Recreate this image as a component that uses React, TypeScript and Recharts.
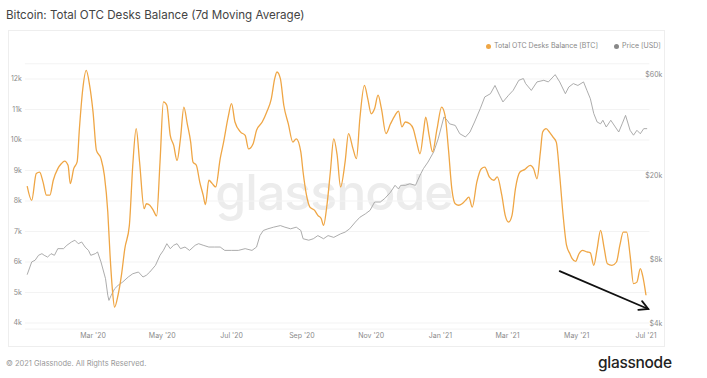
import { LineChart, Line, XAxis, YAxis, CartesianGrid, ReferenceLine } from "recharts";

// days counted from 2020-01-01
const otcDays = [
  2, 6, 10, 13, 16, 19, 22, 25, 29, 32, 35, 38, 40, 43, 46, 48, 51, 54, 57, 60,
  63, 67, 70, 73, 75, 77, 79, 82, 85, 88, 92, 95, 98, 101, 105, 107, 110, 113, 116, 119,
  122, 125, 128, 131, 134, 137, 140, 143, 146, 148, 151, 154, 157, 159, 162, 165, 168, 172, 175, 179,
  182, 185, 190, 194, 197, 201, 204, 209, 213, 217, 220, 222, 225, 228, 232, 236, 239, 243, 245, 248,
  251, 255, 258, 261, 263, 266, 269, 272, 275, 278, 282, 285, 289, 292, 295, 299, 302, 305, 308, 311,
  314, 318, 322, 326, 329, 332, 335, 339, 342, 345, 348, 351, 353, 356, 359, 363, 367, 370, 373, 376,
  379, 382, 385, 388, 391, 394, 398, 402, 405, 409, 413, 416, 420, 423, 426, 429, 432, 436, 440, 445,
  448, 451, 454, 456, 459, 462, 465, 468, 471, 474, 477, 480, 482, 485, 488, 491, 495, 498, 501, 504,
  507, 510, 513, 517, 521, 524, 527, 530, 533, 536, 539, 542, 544, 547,
];
const otcBalance = [
  8490, 8020, 8900, 8950, 8620, 8190, 8190, 8680, 9060, 9220, 9310, 9170, 8570, 9060, 9280, 10370, 11680, 12280, 11790, 10920,
  9660, 9390, 8840, 7640, 6220, 5120, 4520, 4910, 5560, 6440, 7200, 9170, 10370, 9280, 7750, 7910, 7860, 7700, 7510, 9280,
  11250, 11140, 10150, 9830, 9330, 10040, 11080, 10530, 9930, 9280, 9170, 8620, 8190, 7880, 8680, 8570, 8460, 9390, 9930, 10750,
  11190, 10590, 10260, 10150, 9710, 9880, 10320, 10590, 10920, 11350, 12010, 12230, 12010, 11140, 10530, 9930, 10040, 9610, 8950, 8190,
  7800, 7700, 7530, 7420, 7200, 7860, 8950, 10040, 9500, 8460, 9280, 10210, 9710, 9390, 10700, 11790, 11350, 10860, 11030, 11470,
  11030, 10210, 10530, 10810, 10950, 10430, 10590, 10530, 10370, 9930, 9550, 10260, 10750, 10150, 9610, 10370, 11080, 10810, 9710, 8400,
  7910, 7860, 7910, 8020, 8130, 7800, 8620, 9060, 9110, 8790, 8680, 8790, 8190, 7530, 7310, 7530, 8400, 8950, 9030, 9170,
  9060, 8730, 9610, 10260, 10370, 10260, 10100, 9930, 8840, 7530, 6550, 6270, 6110, 6020, 6270, 6380, 6330, 6300, 5890, 6440,
  7040, 6490, 5940, 5890, 6000, 6550, 6980, 6980, 6220, 5290, 5340, 5780, 5560, 4910,
];

const priceDays = [
  2, 6, 9, 12, 15, 17, 20, 23, 26, 29, 34, 37, 41, 44, 47, 50, 53, 56, 58, 62,
  64, 67, 71, 73, 74, 76, 79, 82, 86, 91, 95, 100, 104, 107, 110, 115, 119, 122, 125, 128,
  131, 134, 137, 141, 145, 150, 153, 157, 162, 167, 172, 176, 182, 188, 194, 200, 204, 207, 210, 214,
  219, 225, 229, 234, 239, 243, 245, 250, 254, 258, 263, 267, 272, 278, 282, 286, 291, 295, 300, 304,
  308, 313, 317, 322, 326, 329, 331, 335, 339, 344, 348, 351, 355, 360, 364, 369, 372, 374, 379, 383,
  388, 392, 396, 401, 405, 410, 414, 418, 421, 426, 430, 435, 439, 441, 446, 451, 457, 461, 467, 471,
  476, 479, 483, 487, 492, 495, 498, 501, 504, 507, 509, 512, 516, 520, 523, 526, 529, 533, 536, 539,
  542, 545, 548,
];
const priceUsd = [
  6790, 7800, 7950, 8390, 8540, 8390, 8230, 8540, 8390, 9020, 9020, 9360, 9700, 9890, 9520, 9700, 9180, 8850, 8390, 8540,
  8700, 7800, 6500, 5420, 5130, 5420, 5820, 6040, 6260, 6620, 6860, 6990, 6620, 6750, 6990, 7520, 8390, 8850, 9520, 9020,
  9360, 9520, 9020, 9180, 8850, 9360, 9520, 9360, 9180, 9180, 9180, 8850, 8850, 8850, 9020, 8850, 9180, 10400, 11000, 11200,
  11400, 11600, 11400, 11200, 11400, 11000, 10050, 9890, 10050, 10400, 10050, 10400, 10200, 10600, 10800, 11200, 12050, 12700, 13200, 13700,
  15000, 15000, 15600, 16700, 18000, 17300, 18000, 18000, 18300, 18000, 20100, 21600, 23200, 25900, 29900, 37900, 36600, 35200, 34600, 31600,
  30500, 32200, 35900, 41500, 47200, 48900, 53500, 48100, 44700, 48100, 50700, 56600, 57700, 54600, 50700, 55600, 56600, 55600, 60200, 55600,
  48900, 52600, 54600, 53500, 55600, 50700, 46300, 39400, 35900, 35200, 36600, 34000, 36600, 34000, 32200, 35200, 38600, 32800, 31100, 32800,
  31600, 33400, 33400,
];

const xTickDays = [60, 121, 182, 244, 305, 366, 425, 486, 547];
const xTickLabels = ["Mar '20", "May '20", "Jul '20", "Sep '20", "Nov '20", "Jan '21", "Mar '21", "May '21", "Jul '21"];
const balanceTicks = [4000, 5000, 6000, 7000, 8000, 9000, 10000, 11000, 12000];
const priceTicks = [4000, 8000, 20000, 60000];

// hand-drawn trend arrow in the original
const trendStart = { day: 471, balance: 5700 };
const trendEnd = { day: 549, balance: 4460 };

const otcData = otcDays.map((day, i) => ({ day, v: otcBalance[i] }));
const priceData = priceDays.map((day, i) => ({ day, v: priceUsd[i] }));

const ORANGE = "#efa645";
const GREY = "#a3a3a3";
const FONT = "Inter, 'Noto Sans', sans-serif";

const Arrow = (props: any) => {
  const { x1, y1, x2, y2 } = props;
  const a = Math.atan2(y2 - y1, x2 - x1);
  const len = 10;
  const p1 = [x2 - len * Math.cos(a - 0.5), y2 - len * Math.sin(a - 0.5)];
  const p2 = [x2 - len * Math.cos(a + 0.5), y2 - len * Math.sin(a + 0.5)];
  return (
    <g stroke="#111" strokeWidth={1.8} strokeLinecap="round" fill="none">
      <line x1={x1} y1={y1} x2={x2} y2={y2} />
      <polyline points={`${p1[0]},${p1[1]} ${x2},${y2} ${p2[0]},${p2[1]}`} />
    </g>
  );
};

export default function App() {
  return (
    <div
      style={{
        position: "relative",
        width: 707,
        height: 378,
        background: "#fff",
        fontFamily: FONT,
        overflow: "hidden",
      }}
    >
      <style>{"body{margin:0}"}</style>
      <div style={{ position: "absolute", left: 6, top: 7, fontSize: 11.6, color: "#444", lineHeight: "16px" }}>
        Bitcoin: Total OTC Desks Balance (7d Moving Average)
      </div>
      <div
        style={{
          position: "absolute",
          left: 8,
          top: 30,
          width: 657,
          height: 317,
          border: "1px solid #eeeeee",
          boxSizing: "border-box",
        }}
      />
      <div
        style={{
          position: "absolute",
          left: 334,
          top: 192,
          transform: "translate(-50%, -50%)",
          fontSize: 50,
          fontWeight: 500,
          color: "#ececec",
          letterSpacing: -1,
        }}
      >
        glassnode
      </div>
      <div
        style={{
          position: "absolute",
          left: 486,
          top: 41,
          fontSize: 7,
          color: "#888",
          display: "flex",
          gap: 16,
          lineHeight: "10px",
        }}
      >
        <span style={{ display: "flex", alignItems: "center", gap: 3 }}>
          <span style={{ width: 5, height: 5, borderRadius: 3, background: ORANGE }} />
          Total OTC Desks Balance [BTC]
        </span>
        <span style={{ display: "flex", alignItems: "center", gap: 3 }}>
          <span style={{ width: 5, height: 5, borderRadius: 3, background: "#888" }} />
          Price [USD]
        </span>
      </div>
      <div style={{ position: "absolute", left: 0, top: 0 }}>
        <LineChart width={707} height={378} margin={{ top: 63.75, right: 12.6, bottom: 28.9, left: 4.9 }}>
          <CartesianGrid yAxisId="left" vertical={false} stroke="#f3f3f3" />
          <XAxis
            dataKey="day"
            type="number"
            domain={[0, 550]}
            ticks={xTickDays}
            tickFormatter={(d: number) => xTickLabels[xTickDays.indexOf(d)]}
            axisLine={false}
            tickLine={false}
            tickSize={0}
            tickMargin={4}
            height={20}
            tick={{ fontSize: 7, fill: "#8a8a8a" }}
          />
          <YAxis
            yAxisId="left"
            domain={[3800, 12500]}
            ticks={balanceTicks}
            allowDataOverflow
            tickFormatter={(v: number) => `${v / 1000}k`}
            axisLine={false}
            tickLine={false}
            tickSize={0}
            tickMargin={3}
            width={20}
            tick={{ fontSize: 7, fill: "#8a8a8a" }}
          />
          <YAxis
            yAxisId="right"
            orientation="right"
            scale="log"
            domain={[3750, 67800]}
            ticks={priceTicks}
            allowDataOverflow
            tickFormatter={(v: number) => `$${v / 1000}k`}
            axisLine={false}
            tickLine={false}
            tickSize={0}
            tickMargin={3}
            width={45}
            tick={{ fontSize: 7, fill: "#8a8a8a", textAnchor: "end", dx: 10 }}
          />
          <Line
            yAxisId="right"
            data={priceData}
            dataKey="v"
            type="linear"
            stroke={GREY}
            strokeWidth={0.9}
            dot={false}
            isAnimationActive={false}
          />
          <Line
            yAxisId="left"
            data={otcData}
            dataKey="v"
            type="monotone"
            stroke={ORANGE}
            strokeWidth={1.3}
            dot={false}
            isAnimationActive={false}
          />
          <ReferenceLine
            yAxisId="left"
            segment={[
              { x: trendStart.day, y: trendStart.balance },
              { x: trendEnd.day, y: trendEnd.balance },
            ]}
            shape={Arrow}
          />
        </LineChart>
      </div>
      <div style={{ position: "absolute", left: 6, top: 359, fontSize: 7.5, color: "#999" }}>
        © 2021 Glassnode. All Rights Reserved.
      </div>
      <div
        style={{
          position: "absolute",
          left: 598,
          top: 353,
          fontSize: 15.5,
          color: "#222",
          fontWeight: 500,
          letterSpacing: -0.3,
        }}
      >
        glassnode
      </div>
    </div>
  );
}
